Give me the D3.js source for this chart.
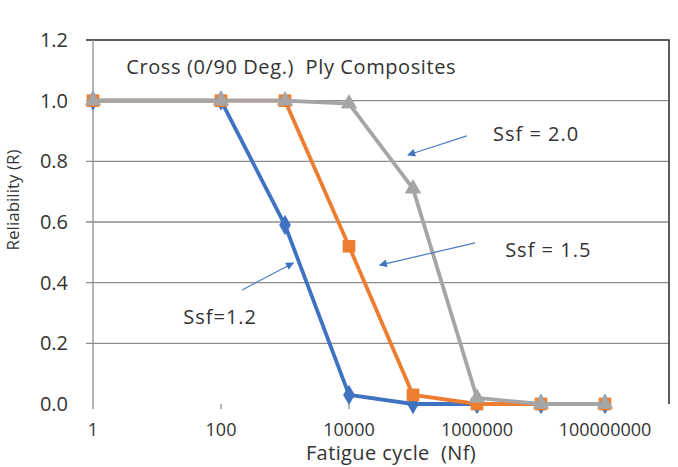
<!DOCTYPE html>
<html>
<head>
<meta charset="utf-8">
<script src="https://cdn.jsdelivr.net/npm/d3@7"></script>
<style>
  body { margin: 0; background: #fff; }
  text { font-family: "Open Sans", sans-serif; fill: #333; }
</style>
</head>
<body>
<svg id="chart"></svg>
<script>
const cycles = [1, 100, 1000, 10000, 100000, 1000000, 10000000, 100000000];
const ssf12 = [1, 1, 0.59, 0.03, 0, 0, 0, 0];
const ssf15 = [1, 1, 1, 0.52, 0.03, 0, 0, 0];
const ssf20 = [1, 1, 1, 0.99, 0.71, 0.02, 0, 0];
const xTicks = [1, 100, 10000, 1000000, 100000000];
const yTicks = [0, 0.2, 0.4, 0.6, 0.8, 1.0, 1.2];

// annotation labels and arrows, in data units [cycles, reliability]
const labels = [
    {text: "Ssf = 2.0", at: [10 ** 6.25, 0.867]},
    {text: "Ssf = 1.5", at: [10 ** 6.44, 0.485]},
    {text: "Ssf=1.2", at: [10 ** 1.41, 0.264]}
];
const arrows = [
    [[10 ** 5.84, 0.884], [10 ** 4.92, 0.821]],
    [[10 ** 5.97, 0.531], [10 ** 4.48, 0.458]],
    [[10 ** 2.33, 0.376], [10 ** 3.13, 0.465]]
];

const W = 678, H = 467;
const svg = d3.select("#chart").attr("width", W).attr("height", H);

const x = d3.scaleLog().domain([1, 1e9]).range([93, 669]);
const y = d3.scaleLinear().domain([0, 1.2]).range([404, 40]);

// gridlines
svg.append("g")
    .selectAll("line")
    .data(yTicks.filter(d => d > 0 && d < 1.2))
    .join("line")
        .attr("x1", 86).attr("x2", x.range()[1])
        .attr("y1", d => y(d)).attr("y2", d => y(d))
        .attr("stroke", "#8c8c8c").attr("stroke-width", 1.3);

// plot frame: top and right dark, left axis gray
svg.append("path")
    .attr("d", `M86,${y(1.2)}H${x.range()[1]}V${y(0)}`)
    .attr("fill", "none").attr("stroke", "#2a2a2a").attr("stroke-width", 1.5);
svg.append("line")
    .attr("x1", x(1)).attr("x2", x(1))
    .attr("y1", y(1.2)).attr("y2", y(0) + 5)
    .attr("stroke", "#8c8c8c").attr("stroke-width", 1.3);

// y tick labels
svg.append("g")
    .selectAll("text")
    .data(yTicks)
    .join("text")
        .attr("x", 68).attr("y", d => y(d) + 7)
        .attr("text-anchor", "end")
        .style("font-size", "20px")
        .text(d3.format(".1f"));

// x ticks and labels
svg.append("g")
    .selectAll("line")
    .data(xTicks.slice(1))
    .join("line")
        .attr("x1", d => x(d)).attr("x2", d => x(d))
        .attr("y1", y(0)).attr("y2", y(0) + 5)
        .attr("stroke", "#8c8c8c").attr("stroke-width", 1.3);
svg.append("g")
    .selectAll("text")
    .data(xTicks)
    .join("text")
        .attr("x", d => x(d)).attr("y", 436)
        .attr("text-anchor", "middle")
        .style("font-size", "18px")
        .text(d3.format("d"));

// axis titles
svg.append("text")
    .attr("transform", "translate(19,200) rotate(-90)")
    .attr("text-anchor", "middle")
    .style("font-size", "17px")
    .text("Reliability (R)");
svg.append("text")
    .attr("x", 391).attr("y", 460)
    .attr("text-anchor", "middle")
    .style("font-size", "20px")
    .style("letter-spacing", "0.4px")
    .attr("xml:space", "preserve")
    .text("Fatigue cycle  (Nf)");

// series
const series = [
    {name: "Ssf=1.2", values: ssf12, color: "#3f73c1", symbol: d3.symbolDiamond, size: 120},
    {name: "Ssf=1.5", values: ssf15, color: "#ed7d31", symbol: d3.symbolSquare, size: 160},
    {name: "Ssf=2.0", values: ssf20, color: "#a5a5a5", symbol: d3.symbolTriangle, size: 120}
];
const line = d3.line().x(d => x(d[0])).y(d => y(d[1]));

series.forEach(s => {
    const pts = cycles.map((c, i) => [c, s.values[i]]);
    svg.append("path")
        .datum(pts)
        .attr("d", line)
        .attr("fill", "none")
        .attr("stroke", s.color)
        .attr("stroke-width", 3.8)
        .attr("stroke-linejoin", "round");
    svg.append("g")
        .selectAll("path")
        .data(pts)
        .join("path")
            .attr("transform", d => `translate(${x(d[0])},${y(d[1])})`)
            .attr("d", d3.symbol().type(s.symbol).size(s.size))
            .attr("fill", s.color);
});

// title
svg.append("text")
    .attr("x", x(10 ** 0.52)).attr("y", y(1.088))
    .style("font-size", "20px")
    .style("letter-spacing", "0.6px")
    .attr("xml:space", "preserve")
    .text("Cross (0/90 Deg.)  Ply Composites");

// annotations
svg.append("defs").append("marker")
    .attr("id", "head")
    .attr("viewBox", "0 0 10 10")
    .attr("refX", 9).attr("refY", 5)
    .attr("markerWidth", 10).attr("markerHeight", 8)
    .attr("markerUnits", "userSpaceOnUse")
    .attr("orient", "auto")
    .append("path")
        .attr("d", "M0,0L10,5L0,10z")
        .attr("fill", "#3f73c1");

svg.append("g")
    .selectAll("line")
    .data(arrows)
    .join("line")
        .attr("x1", d => x(d[0][0])).attr("y1", d => y(d[0][1]))
        .attr("x2", d => x(d[1][0])).attr("y2", d => y(d[1][1]))
        .attr("stroke", "#4a7cc4").attr("stroke-width", 1.2)
        .attr("marker-end", "url(#head)");

svg.append("g")
    .selectAll("text")
    .data(labels)
    .join("text")
        .attr("x", d => x(d.at[0])).attr("y", d => y(d.at[1]))
        .style("font-size", "20px")
        .style("letter-spacing", "1px")
        .text(d => d.text);
</script>
</body>
</html>
